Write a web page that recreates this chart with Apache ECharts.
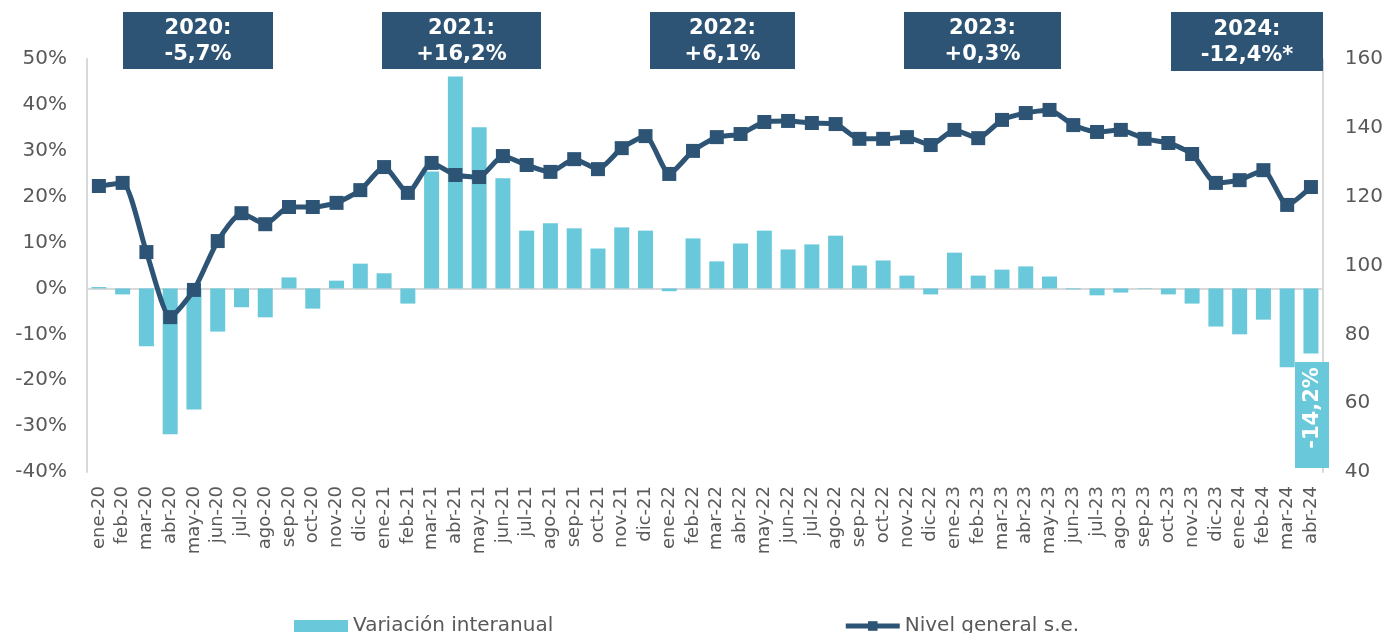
<!DOCTYPE html>
<html>
<head>
<meta charset="utf-8">
<script src="https://cdn.jsdelivr.net/npm/echarts@6/dist/echarts.min.js"></script>
<style>
  html, body { margin: 0; padding: 0; background: #fff; }
  #chart { width: 1386px; height: 633px; }
</style>
</head>
<body>
<div id="chart"></div>
<script>
// meses (ene-20 .. abr-24)
var months = [
  "ene-20","feb-20","mar-20","abr-20","may-20","jun-20","jul-20","ago-20","sep-20","oct-20","nov-20","dic-20",
  "ene-21","feb-21","mar-21","abr-21","may-21","jun-21","jul-21","ago-21","sep-21","oct-21","nov-21","dic-21",
  "ene-22","feb-22","mar-22","abr-22","may-22","jun-22","jul-22","ago-22","sep-22","oct-22","nov-22","dic-22",
  "ene-23","feb-23","mar-23","abr-23","may-23","jun-23","jul-23","ago-23","sep-23","oct-23","nov-23","dic-23",
  "ene-24","feb-24","mar-24","abr-24"
];
// variación interanual (%)
var variacion = [
  0.3, -1.3, -12.6, -31.8, -26.4, -9.4, -4.1, -6.3, 2.4, -4.4, 1.7, 5.4,
  3.3, -3.3, 25.5, 46.2, 35.1, 24.0, 12.6, 14.2, 13.1, 8.7, 13.3, 12.6,
  -0.6, 10.9, 5.9, 9.8, 12.6, 8.5, 9.6, 11.5, 5.0, 6.1, 2.8, -1.3,
  7.8, 2.8, 4.1, 4.8, 2.6, -0.2, -1.5, -0.9, -0.1, -1.3, -3.3, -8.3,
  -10.0, -6.8, -17.2, -14.2
];
// nivel general s.e. (eje derecho)
var nivel = [
  123.1, 124.0, 103.9, 85.0, 92.9, 107.1, 115.2, 112.0, 117.0, 117.0, 118.2, 121.9,
  128.6, 121.1, 129.8, 126.3, 125.7, 131.8, 129.2, 127.2, 130.9, 128.0, 134.1, 137.6,
  126.6, 133.3, 137.3, 138.2, 141.7, 142.0, 141.4, 141.1, 136.8, 136.8, 137.3, 135.0,
  139.4, 137.0, 142.3, 144.3, 145.2, 140.8, 138.8, 139.4, 136.8, 135.6, 132.4, 124.0,
  124.8, 127.7, 117.6, 122.8
];
// anotaciones anuales
var yearLabels = ["2020:\n-5,7%", "2021:\n+16,2%", "2022:\n+6,1%", "2023:\n+0,3%", "2024:\n-12,4%*"];
var lastLabel = "-14,2%";
var leftTicks = { min: -40, max: 50, interval: 10 };
var rightTicks = { min: 40, max: 160, interval: 20 };

var BAR = "#69C8DA";
var DARK = "#2E5475";
var GREY = "#595959";
var FONT = "DejaVu Sans";

// posiciones de las cajas (x, ancho)
var boxPos = [[123, 150], [382, 159], [650, 145], [904, 157], [1171, 152]];

var chart = echarts.init(document.getElementById("chart"));

var graphics = [];
yearLabels.forEach(function (t, i) {
  var h = i === 4 ? 59 : 57;
  graphics.push({
    type: "rect",
    x: boxPos[i][0], y: 12,
    shape: { width: boxPos[i][1], height: h },
    style: { fill: DARK },
    z: 100
  });
  graphics.push({
    type: "text",
    x: boxPos[i][0] + boxPos[i][1] / 2, y: 12 + h / 2 + 1,
    style: {
      text: t, fill: "#fff", font: "bold 21px '" + FONT + "'",
      textAlign: "center", textVerticalAlign: "middle", lineHeight: 26
    },
    z: 101
  });
});
// etiqueta último dato
graphics.push({
  type: "rect", x: 1295, y: 362,
  shape: { width: 34, height: 106 },
  style: { fill: BAR }, z: 100
});
graphics.push({
  type: "text", x: 1313, y: 408, rotation: Math.PI / 2,
  style: {
    text: lastLabel, fill: "#fff", font: "bold 21px '" + FONT + "'",
    textAlign: "center", textVerticalAlign: "middle"
  },
  z: 101
});

var option = {
  animation: false,
  textStyle: { fontFamily: FONT },
  grid: { left: 87, right: 63, top: 59, bottom: 161 },
  legend: {
    left: 289, top: 611,
    itemGap: 290, itemWidth: 54, itemHeight: 12,
    textStyle: { color: GREY, fontSize: 20, fontFamily: FONT },
    data: [
      { name: "Variación interanual", icon: "rect" },
      { name: "Nivel general s.e." }
    ]
  },
  xAxis: {
    type: "category",
    data: months,
    axisLine: { lineStyle: { color: "#D9D9D9", width: 2 } },
    axisTick: { show: false },
    axisLabel: { rotate: 90, interval: 0, color: GREY, fontSize: 18, margin: 14, fontFamily: FONT }
  },
  yAxis: [
    {
      type: "value",
      min: leftTicks.min, max: leftTicks.max, interval: leftTicks.interval,
      axisLine: { show: true, lineStyle: { color: "#D9D9D9", width: 2 } },
      axisTick: { show: false },
      splitLine: { show: false },
      axisLabel: { formatter: "{value}%", color: GREY, fontSize: 20, margin: 20, fontFamily: FONT }
    },
    {
      type: "value",
      min: rightTicks.min, max: rightTicks.max, interval: rightTicks.interval,
      axisLine: { show: true, lineStyle: { color: "#D9D9D9", width: 2 } },
      axisTick: { show: false },
      splitLine: { show: false },
      axisLabel: { color: GREY, fontSize: 20, margin: 22, fontFamily: FONT }
    }
  ],
  series: [
    {
      name: "Variación interanual",
      type: "bar",
      yAxisIndex: 0,
      barWidth: 15,
      itemStyle: { color: BAR },
      data: variacion
    },
    {
      name: "Nivel general s.e.",
      type: "line",
      yAxisIndex: 1,
      smooth: 0.2,
      symbol: "rect",
      symbolSize: 14,
      lineStyle: { color: DARK, width: 5 },
      itemStyle: { color: DARK },
      data: nivel
    }
  ],
  graphic: graphics
};

chart.setOption(option);
// grosor de la línea en la leyenda
chart.setOption({ legend: { lineStyle: { width: 5 }, itemStyle: {} } });
</script>
</body>
</html>
